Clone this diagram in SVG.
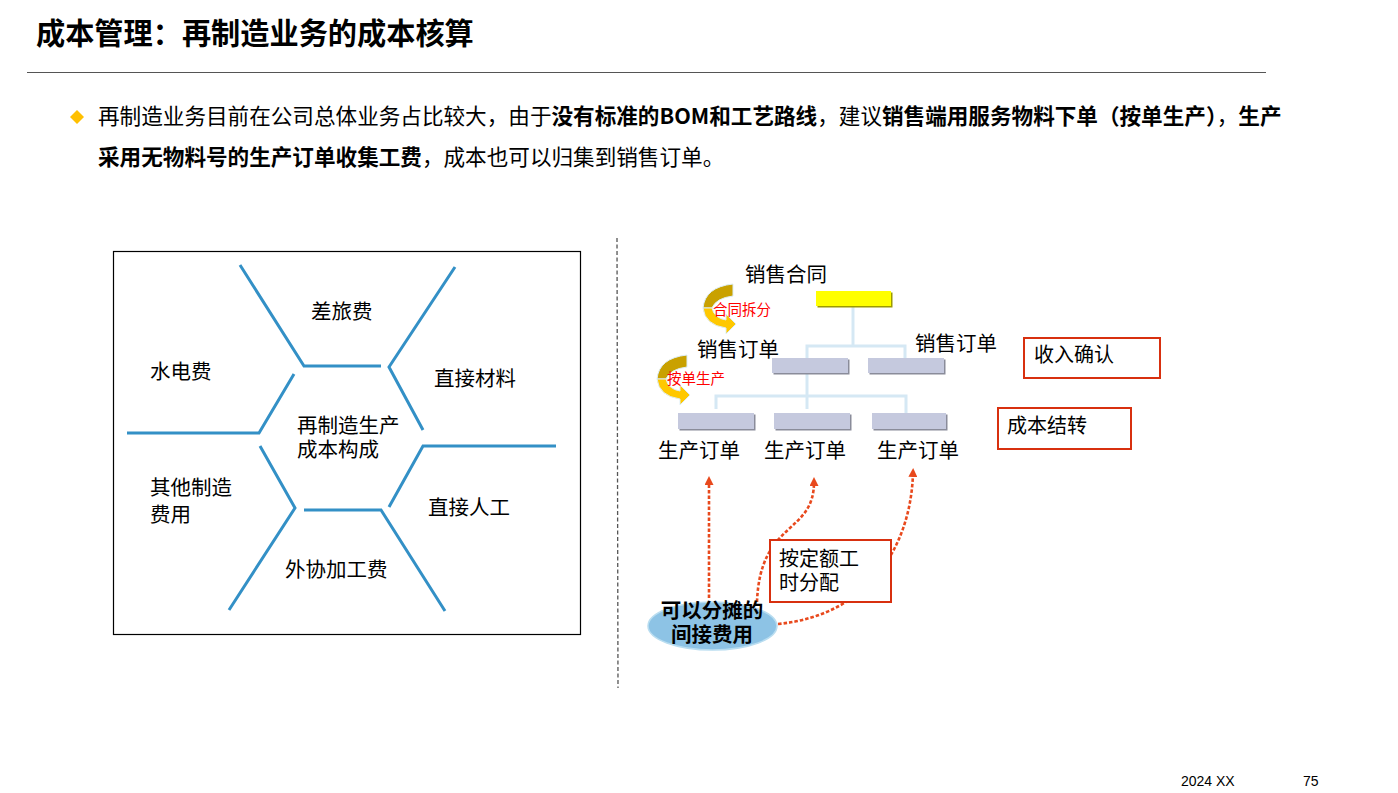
<svg xmlns="http://www.w3.org/2000/svg" width="1398" height="793" viewBox="0 0 1398 793">
<style>
text{font-family:"Liberation Sans","Noto Sans CJK SC",sans-serif;fill:#000;}
.cjk{font-family:"Noto Sans CJK SC","Liberation Sans",sans-serif;}
.t20{font-size:20px;}
.t21{font-size:20.5px;}
.b{font-weight:bold;}
.hex{fill:none;stroke:#3390C6;stroke-width:3;stroke-linecap:butt;}
.tree{fill:none;stroke:#D5E8F4;stroke-width:3;}
.red{fill:#fff;stroke:#D8300F;stroke-width:2;}
.dash{fill:none;stroke:#E8491D;stroke-width:2.6;stroke-dasharray:3.5 2;}
.po{fill:#C5C9DE;}
.sh{fill:#8A8C9A;}
.lbl{font-size:14.5px;fill:#FF0000;}
</style>
<defs>
<marker id="ah" markerWidth="9" markerHeight="9" refX="4" refY="4.5" orient="auto" markerUnits="userSpaceOnUse">
<path d="M0,0 L9,4.5 L0,9 Z" fill="#E8491D"/>
</marker>
<g id="curl">
<path d="M733,284 L733,296 Q716,298 712,308 L703,308 Q705,287 733,284 Z" fill="#C9A100" stroke="#DDEEF6" stroke-width="1"/>
<path d="M703,308 L712,308 Q714,318 726,320 L726,314 L736,324 L726,334 L726,328 Q705,325 703,308 Z" fill="#FFC800" stroke="#DDEEF6" stroke-width="1"/>
</g>
</defs>

<g id="header">
<text x="36" y="44" class="b cjk" style="font-size:29.2px">成本管理：再制造业务的成本核算</text>
<line x1="27" y1="72.5" x2="1266" y2="72.5" stroke="#555" stroke-width="1.2"/>
<path d="M77,110 L84,117 L77,124 L70,117 Z" fill="#FFC000"/>
<text x="98" y="124" class="cjk" style="font-size:21.6px">再制造业务目前在公司总体业务占比较大，由于<tspan class="b">没有标准的BOM和工艺路线</tspan>，建议<tspan class="b">销售端用服务物料下单（按单生产）</tspan>，<tspan class="b">生产</tspan></text>
<text x="98" y="165" class="cjk" style="font-size:21.6px"><tspan class="b">采用无物料号的生产订单收集工费</tspan>，成本也可以归集到销售订单。</text>
</g>

<g id="cost-structure">
<rect x="113.5" y="251.5" width="467" height="383" fill="#fff" stroke="#000" stroke-width="1.2"/>
<polyline class="hex" points="240,265 304,366 381,366"/>
<polyline class="hex" points="455,267 389,367 423,430"/>
<polyline class="hex" points="294,374 259,433 127,433"/>
<polyline class="hex" points="556,446 423,446 389,507"/>
<polyline class="hex" points="260,446 295,508 229,610"/>
<polyline class="hex" points="304,510 381,510 445,611"/>
<text x="311" y="319" class="t21">差旅费</text>
<text x="150" y="379" class="t21">水电费</text>
<text x="434" y="386" class="t21">直接材料</text>
<text class="t21"><tspan x="297" y="433">再制造生产</tspan><tspan x="297" y="457">成本构成</tspan></text>
<text class="t21"><tspan x="150" y="495">其他制造</tspan><tspan x="150" y="522">费用</tspan></text>
<text x="428" y="515" class="t21">直接人工</text>
<text x="285" y="577" class="t21">外协加工费</text>
</g>

<line id="divider" x1="617" y1="238" x2="618" y2="688" stroke="#555" stroke-width="1.3" stroke-dasharray="4 2.5"/>

<g id="connectors">
<polyline class="tree" points="853,306 853,346"/>
<polyline class="tree" points="807,358 807,346 905,346 905,358"/>
<polyline class="tree" points="807,373 807,409"/>
<polyline class="tree" points="716,409 716,396 906,396 906,413"/>
<line class="dash" x1="709" y1="598" x2="709" y2="481" marker-end="url(#ah)"/>
<path class="dash" d="M757,602 C760,520 814,535 814,482" marker-end="url(#ah)"/>
<path class="dash" d="M778,624 C870,615 911,545 913,473" marker-end="url(#ah)"/>
</g>

<g id="sales-contract">
<text x="745" y="282" class="t21">销售合同</text>
<rect x="817.5" y="292.5" width="75" height="15" fill="#9C9A00"/>
<rect x="816" y="291" width="75" height="15" fill="#FFFF00"/>
</g>

<g id="split-contract">
<use href="#curl"/>
<text x="713" y="315" class="lbl">合同拆分</text>
</g>

<g id="by-order">
<use href="#curl" transform="translate(-46,71)"/>
<text x="667" y="384" class="lbl">按单生产</text>
</g>

<g id="sales-order-1">
<rect class="sh" x="773.5" y="359.5" width="76" height="15"/>
<rect class="po" x="772" y="358" width="76" height="15"/>
<text x="697" y="357" class="t21">销售订单</text>
</g>
<g id="sales-order-2">
<rect class="sh" x="869.5" y="359.5" width="76" height="15"/>
<rect class="po" x="868" y="358" width="76" height="15"/>
<text x="915" y="351" class="t21">销售订单</text>
</g>

<g id="prod-order-1">
<rect class="sh" x="679.5" y="414.5" width="76" height="16"/>
<rect class="po" x="678" y="413" width="76" height="16"/>
<text x="658" y="458" class="t21">生产订单</text>
</g>
<g id="prod-order-2">
<rect class="sh" x="775.5" y="414.5" width="76" height="16"/>
<rect class="po" x="774" y="413" width="76" height="16"/>
<text x="764" y="458" class="t21">生产订单</text>
</g>
<g id="prod-order-3">
<rect class="sh" x="873.5" y="414.5" width="74" height="16"/>
<rect class="po" x="872" y="413" width="74" height="16"/>
<text x="877" y="458" class="t21">生产订单</text>
</g>

<g id="revenue">
<rect class="red" x="1024" y="338" width="136" height="40"/>
<text x="1034" y="362" class="t20">收入确认</text>
</g>
<g id="cost-transfer">
<rect class="red" x="998" y="408" width="133" height="41"/>
<text x="1007" y="433" class="t20">成本结转</text>
</g>

<g id="indirect-cost">
<ellipse cx="712.5" cy="626" rx="64.5" ry="24" fill="#8DC3E5" stroke="#B9DDF0" stroke-width="1.5"/>
<text class="b" style="font-size:20.5px" text-anchor="middle"><tspan x="712" y="618">可以分摊的</tspan><tspan x="712" y="642">间接费用</tspan></text>
</g>

<g id="quota">
<rect class="red" x="770" y="540" width="121" height="62"/>
<text class="t20"><tspan x="779" y="566">按定额工</tspan><tspan x="779" y="590">时分配</tspan></text>
</g>

<g id="footer">
<text x="1181" y="786" style="font-size:14px">2024 XX</text>
<text x="1303" y="786" style="font-size:14px">75</text>
</g>
</svg>
